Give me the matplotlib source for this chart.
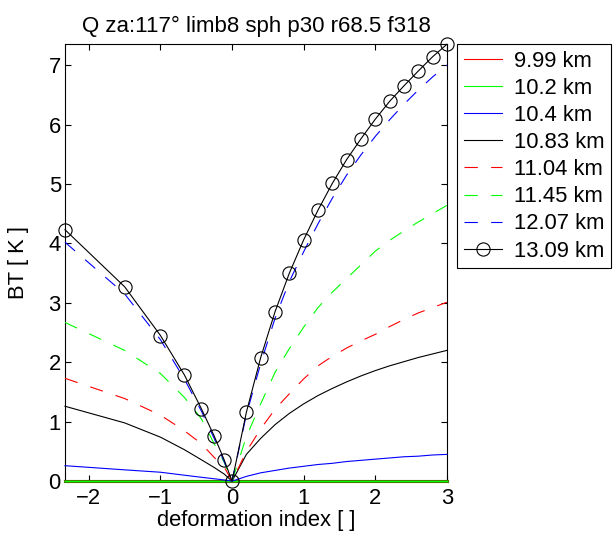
import matplotlib
matplotlib.use("Agg")
import matplotlib.pyplot as plt

plt.rcParams["font.family"] = ["Liberation Sans", "DejaVu Sans"]
plt.rcParams["font.size"] = 15.8

# deformation index grid (negative side is compressed)
x_neg = [-2.333, -1.5, -1.0, -0.667, -0.429, -0.25, -0.111]
x_pos = [0.0, 0.2, 0.4, 0.6, 0.8, 1.0, 1.2, 1.4, 1.6, 1.8, 2.0, 2.2, 2.4, 2.6, 2.8, 3.0]
x = x_neg + x_pos

labels = ["9.99 km", "10.2 km", "10.4 km", "10.83 km",
          "11.04 km", "11.45 km", "12.07 km", "13.09 km"]

bt_999 = [0.0] * len(x)
bt_102 = [0.0] * len(x)
bt_104 = [0.26, 0.19, 0.15, 0.10, 0.065, 0.04, 0.02,
          0.0, 0.08, 0.14, 0.18, 0.22, 0.25, 0.28, 0.30, 0.33, 0.35, 0.37, 0.39, 0.41, 0.42, 0.44, 0.45]
bt_1083 = [1.26, 0.98, 0.74, 0.53, 0.36, 0.23, 0.12,
           0.0, 0.45, 0.72, 0.95, 1.14, 1.30, 1.44, 1.56, 1.67, 1.77, 1.86, 1.94, 2.01, 2.08, 2.14, 2.20]
bt_1104 = [1.73, 1.39, 1.11, 0.85, 0.63, 0.40, 0.24,
           0.0, 0.50, 0.88, 1.21, 1.47, 1.72, 1.94, 2.10, 2.24, 2.36, 2.47, 2.60, 2.72, 2.83, 2.92, 3.01]
bt_1145 = [2.67, 2.20, 1.81, 1.41, 1.05, 0.63, 0.32,
           0.0, 0.75, 1.30, 1.83, 2.23, 2.59, 2.92, 3.18, 3.41, 3.64, 3.87, 4.05, 4.21, 4.36, 4.50, 4.64]
bt_1207 = [4.02, 3.15, 2.38, 1.72, 1.18, 0.72, 0.33,
           0.0, 1.12, 1.98, 2.74, 3.36, 3.86, 4.33, 4.76, 5.15, 5.49, 5.80, 6.08, 6.34, 6.58, 6.80, 7.00]
bt_1309 = [4.23, 3.27, 2.45, 1.79, 1.22, 0.76, 0.36,
           0.0, 1.16, 2.08, 2.85, 3.50, 4.06, 4.56, 5.01, 5.41, 5.76, 6.09, 6.39, 6.65, 6.90, 7.14, 7.35]

series = [bt_999, bt_102, bt_104, bt_1083, bt_1104, bt_1145, bt_1207, bt_1309]
colors = ["#ff0000", "#00ff00", "#0000ff", "#000000",
          "#ff0000", "#00ff00", "#0000ff", "#000000"]

fig = plt.figure(figsize=(6.16, 5.4), dpi=100)
ax = fig.add_axes([0.1055, 0.109, 0.620, 0.809])

for i, (y, c, lab) in enumerate(zip(series, colors, labels)):
    if i < 2:
        # the two zero curves sit on the bottom axis
        ax.plot(x, y, color=c, lw=0.8, label=lab, clip_on=False, zorder=3)
        ax.plot(x, y, color="#3f8000", lw=2.2, clip_on=False, zorder=2.8)
    elif i < 4:
        ax.plot(x, y, color=c, lw=0.8, label=lab, clip_on=False, zorder=3)
    elif i < 7:
        ax.plot(x, y, color=c, lw=0.8, dashes=(12, 12), label=lab,
                clip_on=False, zorder=3)
    else:
        ax.plot(x, y, color=c, lw=0.8, marker="o", ms=9.5, mfc="none",
                mew=0.8, label=lab, clip_on=False, zorder=4)

ax.set_xlim(-2.333, 3.0)
ax.set_ylim(0, 7.35)
ax.set_xticks([-2, -1, 0, 1, 2, 3])
ax.set_xticklabels(["\u22122", "\u22121", "0", "1", "2", "3"])
ax.set_yticks(range(8))
ax.tick_params(direction="in", top=True, right=True, length=4, width=0.8)
ax.tick_params(axis="x", pad=5)
ax.tick_params(axis="y", pad=3)
for s in ax.spines.values():
    s.set_linewidth(0.8)

ax.set_xlabel("deformation index [ ]")
ax.set_ylabel("BT [ K ]")
ax.xaxis.set_label_coords(0.5, -0.066)
ax.yaxis.set_label_coords(-0.094, 0.5)
ax.set_title("Q za:117\u00b0 limb8 sph p30 r68.5 f318", pad=9, fontsize=16)

leg = fig.legend(loc="upper left", bbox_to_anchor=(0.742, 0.9185),
                 frameon=True, fancybox=False, framealpha=1,
                 edgecolor="black", handlelength=1.75, handletextpad=0.55,
                 borderpad=0.3, labelspacing=0.28, borderaxespad=0)
leg.get_frame().set_linewidth(0.8)

fig.savefig("out.png", dpi=100)
